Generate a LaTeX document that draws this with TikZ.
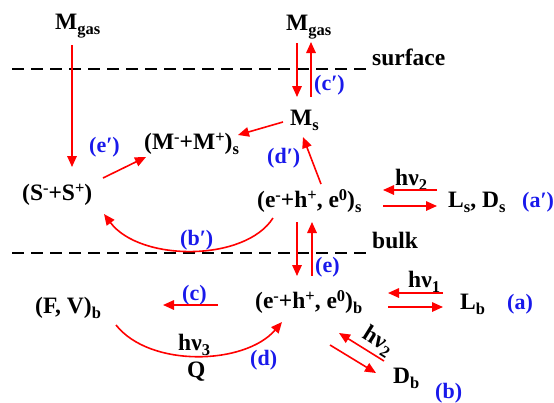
\documentclass[tikz,border=0pt]{standalone}
\usepackage{fontspec}
\setmainfont{Liberation Serif}
\usetikzlibrary{arrows.meta}

\definecolor{tagblue}{RGB}{25,25,235}
\newcommand{\sbs}[1]{\raisebox{-5.5pt}{\fontsize{16.5}{16.5}\selectfont #1}}
\newcommand{\sps}[1]{\raisebox{6.5pt}{\fontsize{16.5}{16.5}\selectfont #1}}

\tikzset{
  lbl/.style={anchor=base west,inner sep=0pt,font=\fontsize{23.5}{25}\selectfont\bfseries},
  tag/.style={lbl,text=tagblue,font=\fontsize{22}{24}\selectfont\bfseries},
  rxn/.style={red,line width=1.6pt,-{Triangle[length=11pt,width=9.5pt]}},
  level/.style={line width=1.6pt,dash pattern=on 12pt off 7pt}
}

\begin{document}
\begin{tikzpicture}[x=1pt,y=-1pt]
    \useasboundingbox (0,0) rectangle (554,402);

    \node[lbl] (mgasL) at (55,29)  {M\sbs{gas}};
    \node[lbl] (mgasR) at (286,30) {M\sbs{gas}};
    \node[lbl] (surface) at (372,65) {surface};
    \node[lbl] (ms)    at (290,125) {M\sbs{s}};
    \node[lbl] (mm)    at (144,149) {(M\sps{-}+M\sps{+})\sbs{s}};
    \node[lbl] (ss)    at (22,200)  {(S\sps{-}+S\sps{+})};
    \node[lbl] (ehs)   at (257,207) {(e\sps{-}+h\sps{+}, e\sps{0})\sbs{s}};
    \node[lbl] (lsds)  at (448,207) {L\sbs{s}, D\sbs{s}};
    \node[lbl] (hvs)   at (395,185) {hν\sbs{2}};
    \node[lbl] (bulk)  at (372,248) {bulk};
    \node[lbl] (ehb)   at (255,308) {(e\sps{-}+h\sps{+}, e\sps{0})\sbs{b}};
    \node[lbl] (lb)    at (460,309) {L\sbs{b}};
    \node[lbl] (hvb)   at (408,287) {hν\sbs{1}};
    \node[lbl] (fvb)   at (35,313)  {(F, V)\sbs{b}};
    \node[lbl] (hvq)   at (178,350) {hν\sbs{3}};
    \node[lbl] (q)     at (187,377) {Q};
    \node[lbl] (db)    at (393,383) {D\sbs{b}};
    \node[lbl,anchor=center,rotate=-32] (hvd) at (378,341) {hν\sbs{2}};

    \node[tag] (tcp) at (314,90)  {(c′)};
    \node[tag] (tdp) at (267,163) {(d′)};
    \node[tag] (tep) at (89,152)  {(e′)};
    \node[tag] (tap) at (522,207) {(a′)};
    \node[tag] (tbp) at (180,245) {(b′)};
    \node[tag] (te)  at (315,272) {(e)};
    \node[tag] (ta)  at (507,309) {(a)};
    \node[tag] (tc)  at (182,300) {(c)};
    \node[tag] (td)  at (250,365) {(d)};
    \node[tag] (tb)  at (435,398) {(b)};

    \coordinate (surfL) at (12,69);
    \coordinate (bulkL) at (12,253);
    \draw[level] (surfL) -- (surfL -| surface.west);
    \draw[level] (bulkL) -- (bulkL -| bulk.west);

    \draw[rxn] ([shift={(17,16)}]mgasL.base west) -- ([shift={(50,-33)}]ss.base west);
    \draw[rxn] ([shift={(81,-22)}]ss.base west) -- ([shift={(2,8)}]mm.base west);
    \draw[rxn] ([shift={(-7,-3)}]ms.base west) -- ([shift={(94,-14)}]mm.base west);
    \draw[rxn] ([shift={(11,13)}]mgasR.base west) -- ([shift={(7,-28)}]ms.base west);
    \draw[rxn] ([shift={(21,-28)}]ms.base west) -- ([shift={(25,12)}]mgasR.base west);
    \draw[rxn] ([shift={(64,-23)}]ehs.base west) -- ([shift={(13,12)}]ms.base west);
    \draw[rxn] ([shift={(-11,-17)}]lsds.base west) -- ([shift={(126,-17)}]ehs.base west);
    \draw[rxn] ([shift={(126,-1)}]ehs.base west) -- ([shift={(-11,-1)}]lsds.base west);
    \draw[rxn] ([shift={(16,11)}]ehs.base west) .. controls +(-28,44) and +(36,48) .. ([shift={(82,14)}]ss.base west);
    \draw[rxn] ([shift={(40,15)}]ehs.base west) -- ([shift={(42,-32)}]ehb.base west);
    \draw[rxn] ([shift={(57,-32)}]ehb.base west) -- ([shift={(55,15)}]ehs.base west);
    \draw[rxn] ([shift={(-17,-16)}]lb.base west) -- ([shift={(133,-15)}]ehb.base west);
    \draw[rxn] ([shift={(133,-1)}]ehb.base west) -- ([shift={(-17,-2)}]lb.base west);
    \draw[rxn] ([shift={(-37,-3)}]ehb.base west) -- ([shift={(128,-8)}]fvb.base west);
    \draw[rxn] ([shift={(81,12)}]fvb.base west) .. controls +(34,43) and +(-37,43) .. ([shift={(27,14)}]ehb.base west);
    \draw[rxn] ([shift={(-9,-22)}]db.base west) -- ([shift={(84,25)}]ehb.base west);
    \draw[rxn] ([shift={(75,37)}]ehb.base west) -- ([shift={(-17,-10)}]db.base west);
  \end{tikzpicture}
\end{document}
